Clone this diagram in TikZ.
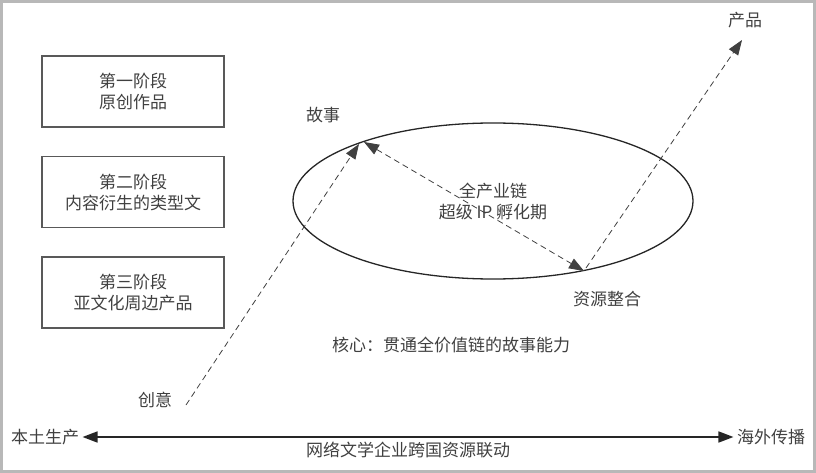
\documentclass[tikz,border=0pt]{standalone}
\usepackage{fontspec}
\setmainfont{Noto Sans CJK SC}
\usetikzlibrary{arrows.meta,positioning,shapes.geometric}
\tikzset{>={Triangle[length=15pt,width=11pt]},
stagebox/.style={draw=black!65,line width=1.6pt,minimum width=182pt,minimum height=71pt,align=center,text=black!75},
lbl/.style={text=black!75,align=center},
dashline/.style={draw=black!75,line width=0.8pt,dash pattern=on 6pt off 4pt}}

\begin{document}
\begin{tikzpicture}[x=1pt,y=-1pt,font=\fontsize{17}{21}\selectfont]
\useasboundingbox (0,0) rectangle (816,473);
\draw[black!28,line width=3pt] (1.5,1.5) rectangle (814.5,471.5);
% stages
\node[stagebox] (s1) at (133,91.5) {第一阶段\\原创作品};
\node[stagebox,below=28pt of s1] (s2) {第二阶段\\内容衍生的类型文};
\node[stagebox,below=28pt of s2] (s3) {第三阶段\\亚文化周边产品};
% cycle
\node[ellipse,draw=black!85,line width=1.3pt,minimum width=400pt,minimum height=156pt,lbl,inner sep=0pt] (cyc) at (493,201) {全产业链\\超级 IP 孵化期};
\coordinate (st) at (359,144);
\coordinate (st2) at (364,142);
\coordinate (rs) at (584,271);
\coordinate (rs2) at (586,268);
\coordinate (pd) at (742,40);
\coordinate (cy) at (186,405);
\node[lbl] (story) at (323,115) {故事};
\node[lbl] (res) at (607,299) {资源整合};
\node[lbl] (prod) at (745,20) {产品};
\node[lbl] (idea) at (155,400) {创意};
\node[lbl] (core) at (451,345) {核心：贯通全价值链的故事能力};
\draw[dashline,->] (cy) -- (st);
\draw[dashline,<->] (st2) -- (rs);
\draw[dashline,->] (rs2) -- (pd);
% axis
\node[lbl] (local) at (45,437) {本土生产};
\node[lbl] (abroad) at (771,437) {海外传播};
\draw[black!85,line width=1.6pt,<->] (local) -- node[lbl,below,inner sep=4pt] (link) {网络文学企业跨国资源联动} (abroad);
\end{tikzpicture}
\end{document}
